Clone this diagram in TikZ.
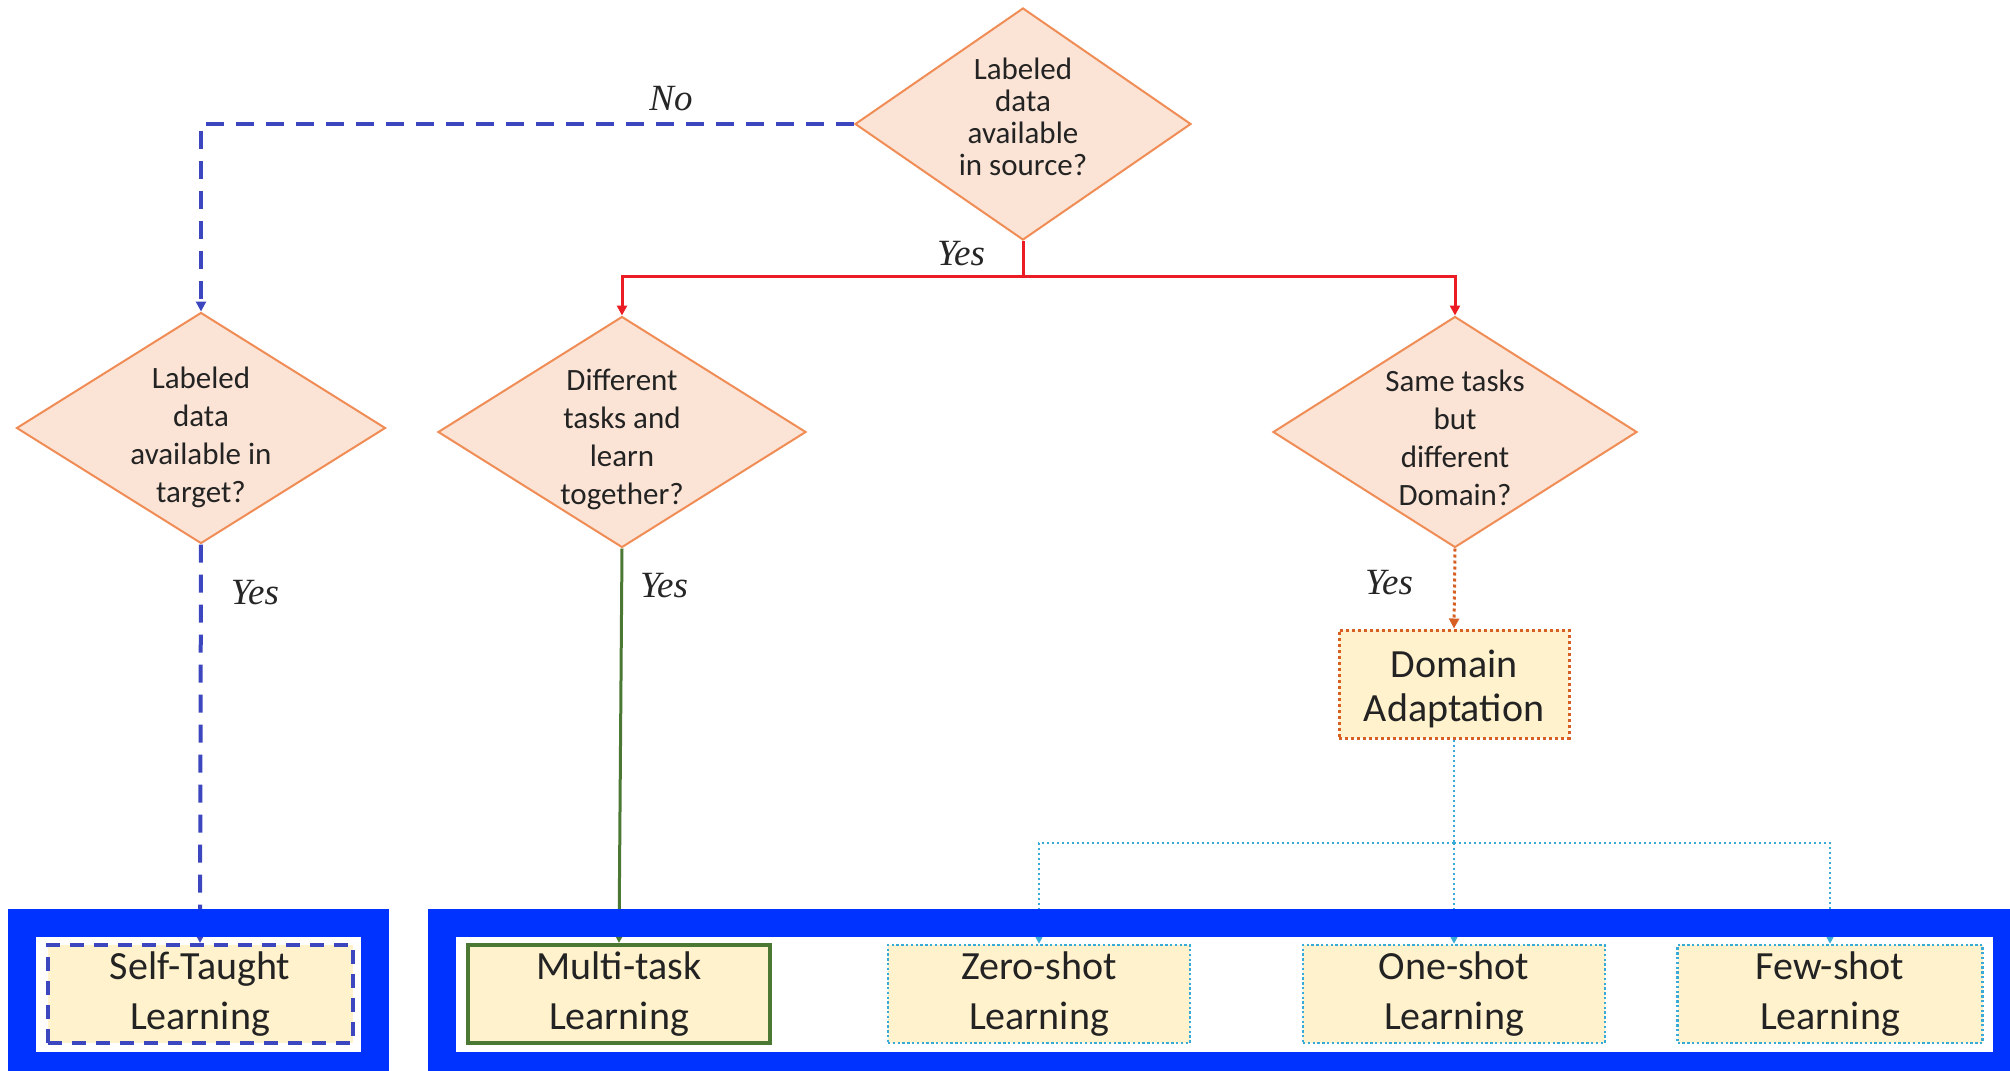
\documentclass[tikz,border=0pt]{standalone}
\usepackage{fontspec}
\newfontfamily\calib{Carlito}
\newfontfamily\answerfont{Liberation Serif}
\usetikzlibrary{shapes.geometric,arrows.meta}

\definecolor{dfill}{RGB}{251,228,213}
\definecolor{dline}{RGB}{240,140,85}
\definecolor{boxfill}{RGB}{255,242,204}
\definecolor{noblue}{RGB}{60,70,190}
\definecolor{yesred}{RGB}{236,28,36}
\definecolor{mtgreen}{RGB}{75,120,50}
\definecolor{daorange}{RGB}{215,95,35}
\definecolor{shotcyan}{RGB}{55,170,215}
\definecolor{frameblue}{RGB}{0,51,255}
\definecolor{ink}{RGB}{35,35,35}

\tikzset{
  decision/.style={diamond, draw=dline, fill=dfill, line width=1pt, inner sep=0pt},
  dtext/.style={font=\calib\fontsize{15.5}{19}\selectfont, text=ink, align=center, inner sep=0pt},
  leaf/.style={rectangle, fill=boxfill, minimum width=151pt, minimum height=49pt,
    inner sep=0pt, align=center, font=\calib\fontsize{20}{25}\selectfont, text=ink},
  ans/.style={font=\answerfont\fontsize{18.5}{20}\selectfont\itshape, text=black!85, inner sep=0pt},
  tip/.style={-{Triangle[length=5pt,width=5pt]}},
  noline/.style={draw=noblue, line width=2pt, dash pattern=on 9pt off 6pt},
  redline/.style={draw=yesred, line width=1.5pt},
  greenline/.style={draw=mtgreen, line width=1.5pt},
  orangeline/.style={draw=daorange, line width=1.5pt, dash pattern=on 1.5pt off 1.5pt},
  cyanline/.style={draw=shotcyan, line width=1.2pt, dash pattern=on 1.2pt off 1.3pt},
  groupframe/.style={draw=frameblue, line width=14pt}
}

\begin{document}
\begin{tikzpicture}[x=0.5pt,y=-0.5pt]
\useasboundingbox (0,0) rectangle (2010,1071);
\clip (0,0) rectangle (2010,1071);

% decisions
\node[decision, minimum width=168pt, minimum height=116pt] (d1) at (1023,124) {};
\node[dtext, font=\calib\fontsize{15.5}{16}\selectfont] (d1t) at (1023,117) {Labeled\\data\\available\\in source?};
\node[decision, minimum width=184.5pt, minimum height=115.5pt] (d2) at (201,428) {};
\node[dtext] (d2t) at (201,437) {Labeled\\data\\available in\\target?};
\node[decision, minimum width=184pt, minimum height=115.5pt] (d3) at (622,432) {};
\node[dtext] (d3t) at (622,439) {Different\\tasks and\\learn\\together?};
\node[decision, minimum width=182pt, minimum height=115.5pt] (d4) at (1455,432) {};
\node[dtext] (d4t) at (1455,438) {Same tasks\\but\\different\\Domain?};

% outcomes
\node[leaf, draw=daorange, line width=1.5pt, dash pattern=on 1.5pt off 1.5pt,
      minimum width=115pt, minimum height=54pt, font=\calib\fontsize{20}{22}\selectfont] (da) at (1454,684) {};
\node[leaf, fill=none, font=\calib\fontsize{20}{22}\selectfont] (dat) at (1454,689) {Domain\\Adaptation};
\node[leaf, draw=noblue, line width=2pt, dash pattern=on 7pt off 5pt,
      minimum width=152.5pt] (st) at (200,994) {Self-Taught\\Learning};
\node[leaf, draw=mtgreen, line width=2pt] (mt) at (619,994) {Multi-task\\Learning};
\node[leaf, draw=shotcyan, line width=1.2pt, dash pattern=on 1.2pt off 1.2pt] (zs) at (1039,994) {Zero-shot\\Learning};
\node[leaf, draw=shotcyan, line width=1.2pt, dash pattern=on 1.2pt off 1.2pt] (os) at (1454,994) {One-shot\\Learning};
\node[leaf, draw=shotcyan, line width=1.2pt, dash pattern=on 1.2pt off 1.2pt,
      minimum width=152.5pt] (fs) at (1830,994) {Few-shot\\Learning};

% connectors
\coordinate (split) at (1023,276);
\coordinate (hub) at (1454,843);
\draw[noline, tip] (d1.west) -| (d2.north);
\draw[redline] (d1.south) -- (split);
\draw[redline, tip] (split) -| (d3.north);
\draw[redline, tip] (split) -| (d4.north);
\draw[noline, tip] (d2.south) -- (st.north);
\draw[greenline, tip] (d3.south) -- (mt.north);
\draw[orangeline, tip] (d4.south) -- (da.north);
\draw[cyanline] (da.south) -- (hub);
\draw[cyanline, tip] (hub) -| (zs.north);
\draw[cyanline, tip] (hub) -- (os.north);
\draw[cyanline, tip] (hub) -| (fs.north);

% answer labels
\node[ans] (lno) at (671,99) {No};
\node[ans] (ly1) at (961,254) {Yes};
\node[ans] (ly2) at (255,593) {Yes};
\node[ans] (ly3) at (664,586) {Yes};
\node[ans] (ly4) at (1389,583) {Yes};

% group frames
\draw[groupframe] (21.5,923) rectangle (375,1066);
\draw[groupframe] (441.5,923) rectangle (2007,1066);
\end{tikzpicture}
\end{document}
